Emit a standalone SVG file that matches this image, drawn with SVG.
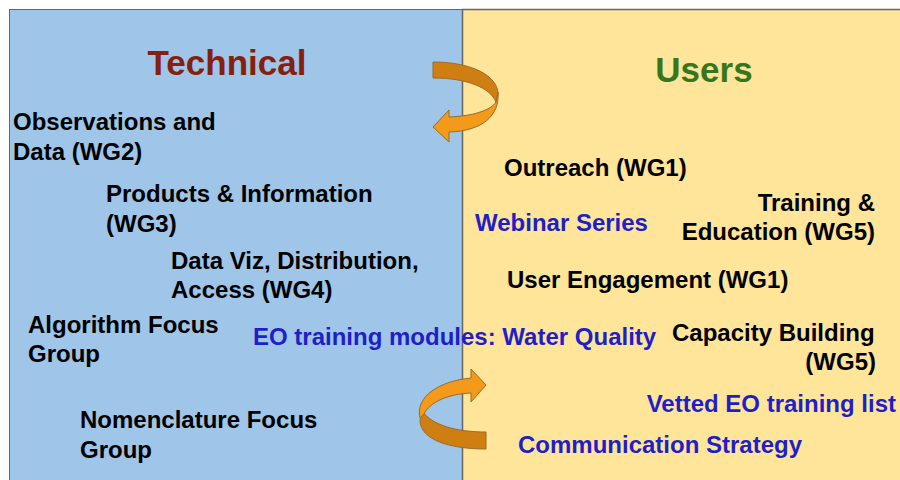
<svg xmlns="http://www.w3.org/2000/svg" width="900" height="480" viewBox="0 0 900 480">
<style>
.t{font-family:"Liberation Sans",Arial,sans-serif;font-weight:bold;font-size:24px;fill:#000}
.b{fill:#1f1fc8}
.h{font-family:"Liberation Sans",Arial,sans-serif;font-weight:bold;font-size:35px;text-anchor:middle}
.dk{fill:#cf7f12;stroke:#9a6a2a;stroke-width:1}
.lt{fill:#f39a1a;stroke:#9a6a2a;stroke-width:1}
</style>
<rect x="0" y="0" width="900" height="480" fill="#ffffff"/>
<g id="technical-panel">
<rect x="9.5" y="9.5" width="453" height="475" fill="#9fc5e8" stroke="#666" stroke-width="1"/>
<text class="h" x="227" y="75" fill="#85200c">Technical</text>
</g>
<g id="users-panel">
<rect x="462.5" y="9.5" width="445" height="475" fill="#ffe599" stroke="#666" stroke-width="1.5"/>
<text class="h" x="704" y="82" fill="#38761d">Users</text>
</g>
<g id="obs"><text class="t" x="13" y="130">Observations and</text><text class="t" x="13" y="160">Data (WG2)</text></g>
<g id="products"><text class="t" x="106" y="202">Products &amp; Information</text><text class="t" x="106" y="232">(WG3)</text></g>
<g id="dataviz"><text class="t" x="171" y="269">Data Viz, Distribution,</text><text class="t" x="171" y="298">Access (WG4)</text></g>
<g id="algorithm"><text class="t" x="28" y="333">Algorithm Focus</text><text class="t" x="28" y="362">Group</text></g>
<g id="nomenclature"><text class="t" x="80" y="428">Nomenclature Focus</text><text class="t" x="80" y="458">Group</text></g>
<g id="outreach"><text class="t" x="504" y="176">Outreach (WG1)</text></g>
<g id="training"><text class="t" x="875" y="211" text-anchor="end">Training &amp;</text><text class="t" x="875" y="240" text-anchor="end">Education (WG5)</text></g>
<g id="webinar"><text class="t b" x="475" y="231">Webinar Series</text></g>
<g id="engagement"><text class="t" x="507" y="288">User Engagement (WG1)</text></g>
<g id="modules"><text class="t b" x="253" y="345">EO training modules: Water Quality</text></g>
<g id="capacity"><text class="t" x="672" y="341">Capacity Building</text><text class="t" x="876" y="370" text-anchor="end">(WG5)</text></g>
<g id="vetted"><text class="t b" x="896" y="412" text-anchor="end">Vetted EO training list</text></g>
<g id="communication"><text class="t b" x="518" y="453">Communication Strategy</text></g>
<g id="connectors">
<path class="dk" d="M433,62 C472,62 498,76 498,94 L496,102 C490,88 468,78 433,78 Z"/>
<path class="lt" d="M498,92 C500,116 482,131 449,132 L449,142 L433,127 L449,110 L449,117 C474,116 491,110 496,102 Z"/>
<path class="dk" d="M422,411 C432,425 456,432 486,432 L486,449 C450,449 420,440 420,420 Z"/>
<path class="lt" d="M420,418 C415,396 440,381 471,378 L471,369 L486,385 L471,402 L471,393 C448,394 430,402 424,414 Z"/>
</g>
</svg>
